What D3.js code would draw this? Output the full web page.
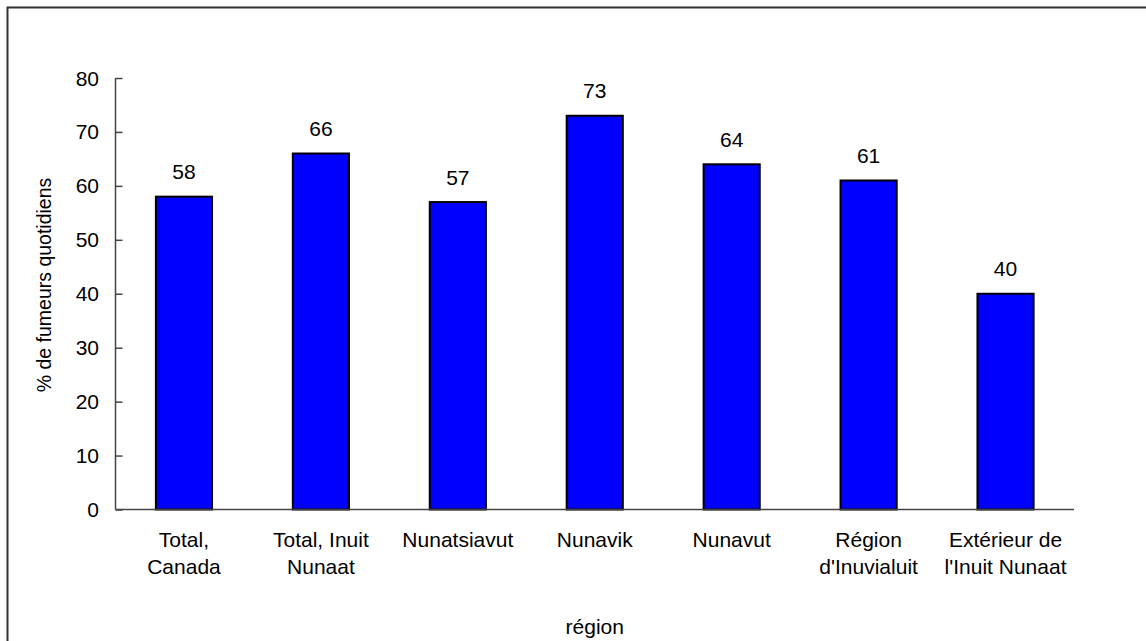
<!DOCTYPE html>
<html>
<head>
<meta charset="utf-8">
<script src="https://cdn.jsdelivr.net/npm/d3@7"></script>
<style>
  html, body { margin: 0; padding: 0; background: #fff; }
  svg { display: block; font-family: Arial, "Liberation Sans", sans-serif; }
</style>
</head>
<body>
<svg id="chart" width="1146" height="641"></svg>
<script>
// Daily smokers by region
const categories = [
  ["Total,", "Canada"],
  ["Total, Inuit", "Nunaat"],
  ["Nunatsiavut"],
  ["Nunavik"],
  ["Nunavut"],
  ["Région", "d'Inuvialuit"],
  ["Extérieur de", "l'Inuit Nunaat"]
];
const values = [58, 66, 57, 73, 64, 61, 40];
const yTicks = [0, 10, 20, 30, 40, 50, 60, 70, 80];
const yTitle = "% de fumeurs quotidiens";
const xTitle = "région";

const svg = d3.select("#chart");
const W = 1146, H = 641;
const FS = 21;
const m = { left: 115.5, right: 1074, top: 78, bottom: 509.5 };

// outer frame
svg.append("rect")
  .attr("x", 7.5).attr("y", 7.5)
  .attr("width", W).attr("height", H)
  .attr("fill", "none").attr("stroke", "#333").attr("stroke-width", 2);

const keys = categories.map((c, i) => i);
const x = d3.scaleBand().domain(keys).range([m.left, m.right]).paddingInner(0.59).paddingOuter(0.295);
const y = d3.scaleLinear().domain([0, 80]).range([m.bottom, m.top]);

// bars
svg.append("g").selectAll("rect").data(values).join("rect")
  .attr("x", (d, i) => x(i))
  .attr("y", d => y(d))
  .attr("width", x.bandwidth())
  .attr("height", d => y(0) - y(d))
  .attr("fill", "#0000ff")
  .attr("stroke", "#000")
  .attr("stroke-width", 2);

// value labels
svg.append("g").selectAll("text").data(values).join("text")
  .attr("x", (d, i) => x(i) + x.bandwidth() / 2)
  .attr("y", d => y(d) - 17.5)
  .attr("text-anchor", "middle")
  .attr("font-size", FS)
  .attr("fill", "#000")
  .text(d => d);

// y axis (ticks pointing inward)
const yAxis = d3.axisRight(y).tickValues(yTicks).tickSize(7).tickFormat("");
const gy = svg.append("g").attr("transform", `translate(${m.left},0)`).call(yAxis);
gy.select(".domain").attr("stroke", "#444").attr("stroke-width", 1.5).attr("d", `M0,${m.top}V${m.bottom}`);
gy.selectAll(".tick line").attr("stroke", "#444").attr("stroke-width", 1.5);

svg.append("g").selectAll("text").data(yTicks).join("text")
  .attr("x", m.left - 16.5)
  .attr("y", d => y(d))
  .attr("dy", "0.36em")
  .attr("text-anchor", "end")
  .attr("font-size", FS)
  .attr("fill", "#000")
  .text(d => d);

// x axis line
const xAxis = d3.axisBottom(x).tickSize(0).tickFormat("");
const gx = svg.append("g").attr("transform", `translate(0,${m.bottom})`).call(xAxis);
gx.select(".domain").attr("stroke", "#444").attr("stroke-width", 1.5).attr("d", `M${m.left},0H${m.right}`);

// category labels
const cat = svg.append("g").selectAll("text").data(categories).join("text")
  .attr("text-anchor", "middle")
  .attr("font-size", FS)
  .attr("fill", "#000");
cat.each(function (lines, i) {
  d3.select(this).selectAll("tspan").data(lines).join("tspan")
    .attr("x", x(i) + x.bandwidth() / 2)
    .attr("y", (l, j) => 547 + j * 27)
    .text(l => l);
});

// axis titles
svg.append("text")
  .attr("x", (m.left + m.right) / 2)
  .attr("y", 634)
  .attr("text-anchor", "middle")
  .attr("font-size", FS)
  .attr("fill", "#000")
  .text(xTitle);

svg.append("text")
  .attr("transform", "translate(50.5,285) rotate(-90)")
  .attr("text-anchor", "middle")
  .attr("font-size", 19.5)
  .attr("fill", "#000")
  .text(yTitle);
</script>
</body>
</html>
